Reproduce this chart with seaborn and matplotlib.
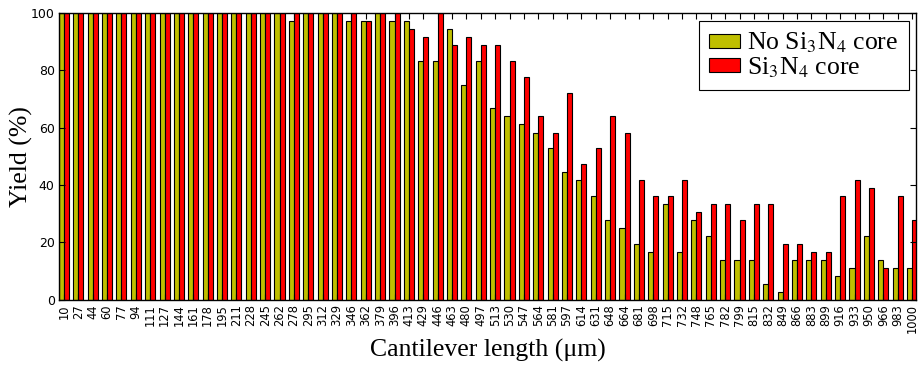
import pandas as pd
import matplotlib
matplotlib.use("Agg")
import matplotlib.pyplot as plt
import seaborn as sns

# cantilever lengths (um) and yields (%)
lengths = ['10', '27', '44', '60', '77', '94', '111', '127', '144', '161',
           '178', '195', '211', '228', '245', '262', '278', '295', '312', '329',
           '346', '362', '379', '396', '413', '429', '446', '463', '480', '497',
           '513', '530', '547', '564', '581', '597', '614', '631', '648', '664',
           '681', '698', '715', '732', '748', '765', '782', '799', '815', '832',
           '849', '866', '883', '899', '916', '933', '950', '966', '983', '1000']

no_core = [100, 100, 100, 100, 100, 100, 100, 100, 100, 100,
           100, 100, 100, 100, 100, 100, 97.2, 100, 100, 100,
           97.2, 97.2, 100, 97.2, 97.2, 83.3, 83.3, 94.4, 75.0, 83.3,
           66.7, 63.9, 61.1, 58.3, 52.8, 44.4, 41.7, 36.1, 27.8, 25.0,
           19.4, 16.7, 33.3, 16.7, 27.8, 22.2, 13.9, 13.9, 13.9, 5.6,
           2.8, 13.9, 13.9, 13.9, 8.3, 11.1, 22.2, 13.9, 11.1, 11.1]

with_core = [100, 100, 100, 100, 100, 100, 100, 100, 100, 100,
             100, 100, 100, 100, 100, 100, 100, 100, 100, 100,
             100, 97.2, 100, 100, 94.4, 91.7, 100, 88.9, 91.7, 88.9,
             88.9, 83.3, 77.8, 63.9, 58.3, 72.2, 47.2, 52.8, 63.9, 58.3,
             41.7, 36.1, 36.1, 41.7, 30.6, 33.3, 33.3, 27.8, 33.3, 33.3,
             19.4, 19.4, 16.7, 16.7, 36.1, 41.7, 38.9, 11.1, 36.1, 27.8]

series_names = ['No Si$_3$N$_4$ core', 'Si$_3$N$_4$ core']
colors = {series_names[0]: '#bfbf00', series_names[1]: '#ff0000'}

df = pd.DataFrame({
    'length': lengths * 2,
    'yield': no_core + with_core,
    'series': [series_names[0]] * len(lengths) + [series_names[1]] * len(lengths),
})

plt.rcParams['mathtext.fontset'] = 'stix'
plt.rcParams['axes.linewidth'] = 1.0

fig, ax = plt.subplots(figsize=(9.2, 3.67), dpi=100)
fig.subplots_adjust(left=0.064, right=0.996, top=0.965, bottom=0.183)

sns.barplot(data=df, x='length', y='yield', hue='series', order=lengths,
            hue_order=series_names, palette=colors, width=0.7, saturation=1,
            edgecolor='black', linewidth=0.8, ax=ax)

ax.set_xlim(-0.35, 59.3)
ax.set_ylim(0, 100)
ax.set_yticks([0, 20, 40, 60, 80, 100])

ax.tick_params(axis='both', direction='in', top=True, right=True, length=4, width=0.8)
ax.tick_params(axis='x', labelrotation=90, labelsize=8.3, pad=3)
ax.tick_params(axis='y', labelsize=9, pad=3)

serif = ['Liberation Serif', 'DejaVu Serif']
ax.set_xlabel('Cantilever length (μm)', fontsize=18.5, family=serif, labelpad=4)
ax.set_ylabel('Yield (%)', fontsize=18.5, family=serif)
ax.yaxis.set_label_coords(-0.03, 0.5)

sns.move_legend(ax, 'upper right', title=None, frameon=True, fancybox=False,
                framealpha=1, edgecolor='black', borderaxespad=0.3,
                handlelength=1.2, handleheight=0.45, handletextpad=0.28,
                labelspacing=0.0, borderpad=0.4,
                prop={'family': serif, 'size': 18.5})
ax.get_legend().get_frame().set_linewidth(0.8)

fig.savefig('out.png', dpi=100)
